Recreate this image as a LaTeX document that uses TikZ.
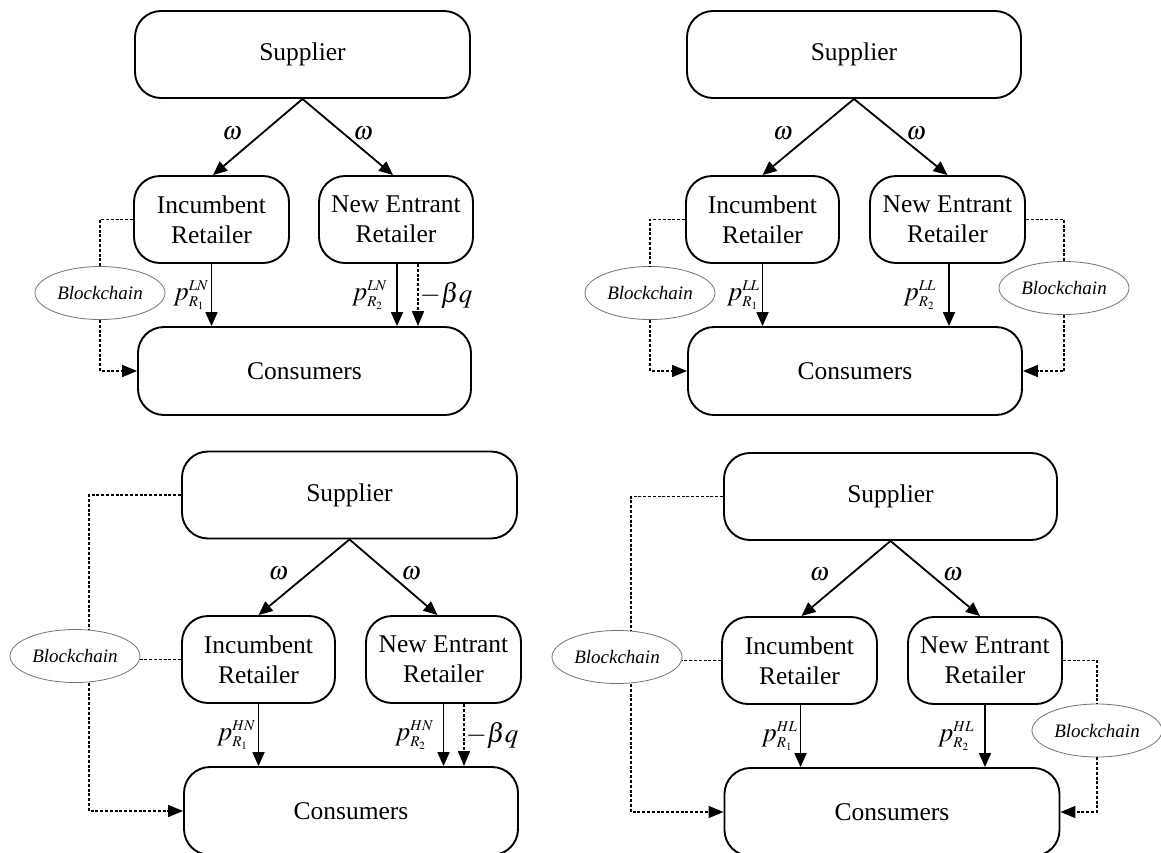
\documentclass[tikz,border=0pt]{standalone}
\usepackage{mathptmx}
\usepackage{fontspec}
\setmainfont{Liberation Serif}
\usetikzlibrary{arrows.meta,shapes.geometric,positioning}
\DeclareMathSizes{25.5}{25.5}{14}{10}
\DeclareMathSizes{27}{27}{15}{11}
\newcommand\mainfs{\fontsize{25.5}{30}\selectfont}
\newcommand\labfs{\fontsize{27}{30}\selectfont}
\newcommand\bcfs{\fontsize{19}{22}\selectfont}
\tikzset{
  box/.style={draw, line width=1.9pt, rounded corners=26pt, align=center, font=\mainfs, inner sep=0pt, minimum height=87pt},
  bcnode/.style={draw=black!55, line width=0.8pt, ellipse, minimum width=130pt, minimum height=53pt, inner sep=0pt, font=\bcfs\itshape},
  arr/.style={line width=1.8pt, -{Triangle[length=14pt,width=12pt]}},
  darr/.style={line width=1.6pt, dash pattern=on 3pt off 1.8pt, -{Triangle[length=15pt,width=12pt]}},
  dline/.style={line width=1.6pt, dash pattern=on 3pt off 1.8pt},
  lab/.style={font=\labfs, inner sep=1pt},
  wlab/.style={font=\mainfs, inner sep=1pt}
}
\begin{document}
\begin{tikzpicture}[x=1pt,y=-1pt]
\clip (0,0) rectangle (1161,852);
\fill[white] (0,0) rectangle (1161,852);

% ---------- Panel 1 (LN) ----------
\node[box, minimum width=335pt] (a1) at (302.5,54.5) {Supplier};
\node[box, minimum width=155pt] (a2) at (211.5,219.5) {Incumbent\\Retailer};
\node[box, minimum width=154pt] (a3) at (396,219.5) {New Entrant\\Retailer};
\node[box, minimum width=333pt, minimum height=88pt] (a4) at (304.5,371) {Consumers};
\node[bcnode] (a5) at (100,293) {Blockchain};
\draw[arr] (a1.south) -- node[pos=.45, xshift=-30pt, wlab]{$\omega$} ([xshift=1.5pt]a2.north);
\draw[arr] (a1.south) -- node[pos=.45, xshift=20pt, wlab]{$\omega$} ([xshift=-3pt]a3.north);
\draw[arr] (a2.south) -- node[left=1pt, lab]{$p^{LN}_{R_1}$} (a2.south |- a4.north);
\draw[arr] ([xshift=1pt]a3.south) -- node[left=8pt, lab]{$p^{LN}_{R_2}$} ([xshift=1pt]a3.south |- a4.north);
\draw[darr] ([xshift=22pt]a3.south) -- node[right=0pt, lab]{$-\beta q$} ([xshift=22pt]a3.south |- a4.north);
\draw[dline] (a2.west) -| (a5.north);
\draw[darr] (a5.south) |- (a4.west);

% ---------- Panel 2 (LL) ----------
\node[box, minimum width=334pt] (b1) at (854,54.5) {Supplier};
\node[box, minimum width=153pt] (b2) at (762.5,219.5) {Incumbent\\Retailer};
\node[box, minimum width=155pt] (b3) at (947.5,219.5) {New Entrant\\Retailer};
\node[box, minimum width=334pt, minimum height=88pt] (b4) at (855,371) {Consumers};
\node[bcnode] (b5) at (650,293) {Blockchain};
\node[bcnode] (b6) at (1064,288) {Blockchain};
\draw[arr] (b1.south) -- node[pos=.45, xshift=-30pt, wlab]{$\omega$} (b2.north);
\draw[arr] (b1.south) -- node[pos=.45, xshift=20pt, wlab]{$\omega$} (b3.north);
\draw[arr] (b2.south) -- node[left=1pt, lab]{$p^{LL}_{R_1}$} (b2.south |- b4.north);
\draw[arr] ([xshift=1.5pt]b3.south) -- node[left=11pt, lab]{$p^{LL}_{R_2}$} ([xshift=1.5pt]b3.south |- b4.north);
\draw[dline] (b2.west) -| (b5.north);
\draw[darr] (b5.south) |- (b4.west);
\draw[dline] (b3.east) -| (b6.north);
\draw[darr] (b6.south) |- (b4.east);

% ---------- Panel 3 (HN) ----------
\node[box, minimum width=335pt] (c1) at (349.5,495) {Supplier};
\node[box, minimum width=153pt] (c2) at (258.5,659.5) {Incumbent\\Retailer};
\node[box, minimum width=155pt] (c3) at (443.5,659.5) {New Entrant\\Retailer};
\node[box, minimum width=334pt, minimum height=88pt] (c4) at (351,811) {Consumers};
\node[bcnode] (c5) at (75,656) {Blockchain};
\draw[arr] (c1.south) -- node[pos=.45, xshift=-30pt, wlab]{$\omega$} (c2.north);
\draw[arr] (c1.south) -- node[pos=.45, xshift=22pt, wlab]{$\omega$} ([xshift=-6pt]c3.north);
\draw[arr] (c2.south) -- node[left=1pt, lab]{$p^{HN}_{R_1}$} (c2.south |- c4.north);
\draw[arr] (c3.south) -- node[left=8pt, lab]{$p^{HN}_{R_2}$} (c3.south |- c4.north);
\draw[darr] ([xshift=20.5pt]c3.south) -- node[right=0pt, lab]{$-\beta q$} ([xshift=20.5pt]c3.south |- c4.north);
\draw[dline] (c1.west) -| ([xshift=14pt]c5.north);
\draw[dline] (c2.west) -- (c2.west -| c5.east);
\draw[darr] ([xshift=14pt]c5.south) |- (c4.west);

% ---------- Panel 4 (HL) ----------
\node[box, minimum width=333pt] (d1) at (890.5,496.5) {Supplier};
\node[box, minimum width=155pt] (d2) at (799.5,660.5) {Incumbent\\Retailer};
\node[box, minimum width=154pt] (d3) at (985,660.5) {New Entrant\\Retailer};
\node[box, minimum width=335pt, minimum height=88pt] (d4) at (892,812) {Consumers};
\node[bcnode] (d5) at (617,657) {Blockchain};
\node[bcnode] (d6) at (1097,730.5) {Blockchain};
\draw[arr] (d1.south) -- node[pos=.45, xshift=-31pt, wlab]{$\omega$} ([xshift=2pt]d2.north);
\draw[arr] (d1.south) -- node[pos=.45, xshift=22pt, wlab]{$\omega$} ([xshift=-5pt]d3.north);
\draw[arr] ([xshift=1pt]d2.south) -- node[left=1pt, lab]{$p^{HL}_{R_1}$} ([xshift=1pt]d2.south |- d4.north);
\draw[arr] (d3.south) -- node[left=9pt, lab]{$p^{HL}_{R_2}$} (d3.south |- d4.north);
\draw[dline] (d1.west) -| ([xshift=14pt]d5.north);
\draw[dline] (d2.west) -- (d2.west -| d5.east);
\draw[darr] ([xshift=14pt]d5.south) |- (d4.west);
\draw[dline] (d3.east) -| (d6.north);
\draw[darr] (d6.south) |- (d4.east);
\end{tikzpicture}
\end{document}
